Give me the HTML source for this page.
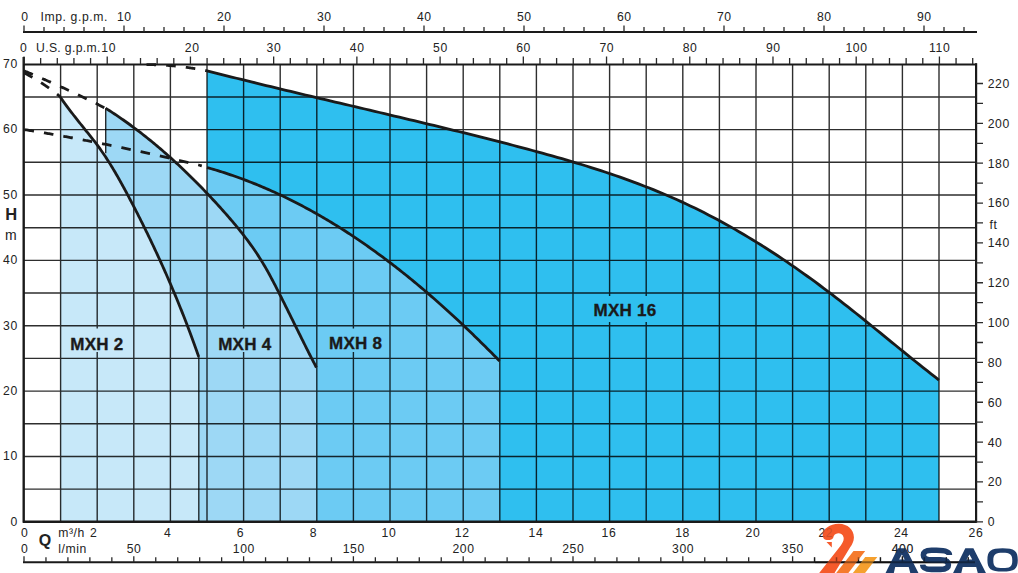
<!DOCTYPE html><html><head><meta charset="utf-8"><style>html,body{margin:0;padding:0;background:#fff;width:1018px;height:573px;overflow:hidden}svg{display:block}text{font-family:"Liberation Sans",sans-serif;fill:#222}</style></head><body>
<svg width="1018" height="573" viewBox="0 0 1018 573">
<rect width="1018" height="573" fill="#fff"/>
<path d="M207.00,70.79 L211.93,72.05 L216.85,73.30 L221.78,74.55 L226.70,75.79 L231.63,77.02 L236.56,78.25 L241.49,79.47 L246.41,80.69 L251.34,81.91 L256.27,83.12 L261.20,84.32 L266.13,85.52 L271.06,86.72 L275.99,87.91 L280.92,89.10 L285.85,90.29 L290.78,91.47 L295.71,92.65 L300.65,93.83 L305.58,95.00 L310.51,96.18 L315.44,97.35 L320.38,98.52 L325.31,99.69 L330.24,100.85 L335.18,102.02 L340.11,103.18 L345.04,104.35 L349.98,105.51 L354.91,106.68 L359.85,107.84 L364.78,109.01 L369.72,110.17 L374.65,111.34 L379.59,112.51 L384.52,113.68 L389.46,114.85 L394.39,116.02 L399.33,117.19 L404.26,118.37 L409.20,119.55 L414.13,120.73 L419.07,121.91 L424.00,123.10 L428.94,124.29 L433.87,125.48 L438.81,126.68 L443.75,127.88 L448.68,129.09 L453.62,130.30 L458.55,131.51 L463.48,132.73 L468.42,133.96 L473.35,135.19 L478.29,136.43 L483.22,137.67 L488.16,138.92 L493.09,140.17 L498.02,141.43 L502.96,142.70 L507.89,143.97 L512.82,145.26 L517.75,146.55 L522.68,147.85 L527.61,149.16 L532.53,150.49 L537.45,151.82 L542.37,153.17 L547.28,154.53 L552.19,155.91 L557.09,157.31 L561.99,158.71 L566.88,160.14 L571.76,161.59 L576.64,163.05 L581.50,164.53 L586.37,166.03 L591.22,167.56 L596.06,169.10 L600.90,170.67 L605.72,172.27 L610.54,173.88 L615.34,175.52 L620.13,177.19 L624.91,178.89 L629.68,180.61 L634.43,182.36 L639.18,184.14 L643.91,185.95 L648.62,187.80 L653.32,189.67 L658.00,191.58 L662.67,193.52 L667.33,195.49 L671.97,197.50 L676.59,199.54 L681.19,201.62 L685.77,203.74 L690.34,205.90 L694.89,208.09 L699.42,210.32 L703.94,212.59 L708.43,214.89 L712.91,217.22 L717.37,219.59 L721.82,221.99 L726.25,224.43 L730.66,226.90 L735.06,229.40 L739.44,231.93 L743.80,234.49 L748.14,237.09 L752.47,239.71 L756.79,242.36 L761.09,245.04 L765.37,247.75 L769.64,250.48 L773.89,253.25 L778.13,256.04 L782.35,258.85 L786.56,261.69 L790.75,264.56 L794.93,267.44 L799.09,270.36 L803.24,273.29 L807.37,276.25 L811.49,279.23 L815.60,282.23 L819.69,285.25 L823.77,288.30 L827.83,291.36 L831.88,294.44 L835.92,297.54 L839.95,300.66 L843.96,303.79 L847.97,306.93 L851.96,310.09 L855.95,313.26 L859.93,316.44 L863.90,319.63 L867.86,322.82 L871.82,326.03 L875.77,329.23 L879.72,332.44 L883.66,335.65 L887.61,338.86 L891.55,342.07 L895.48,345.28 L899.42,348.49 L903.36,351.68 L907.30,354.88 L911.25,358.06 L915.19,361.24 L919.14,364.40 L923.10,367.56 L927.06,370.70 L931.02,373.82 L935.00,376.94 L938.98,380.03 L939.00,521.80 L207.00,521.80 Z" fill="#2fbfef"/>
<path d="M207.00,167.50 L209.17,168.11 L211.33,168.73 L213.49,169.36 L215.64,170.01 L217.79,170.66 L219.94,171.33 L222.08,172.00 L224.21,172.69 L226.35,173.38 L228.47,174.09 L230.60,174.80 L232.71,175.53 L234.83,176.27 L236.94,177.01 L239.04,177.77 L241.14,178.53 L243.23,179.31 L245.33,180.10 L247.41,180.89 L249.49,181.70 L251.57,182.51 L253.64,183.33 L255.71,184.17 L257.78,185.01 L259.84,185.86 L261.89,186.72 L263.94,187.60 L265.99,188.48 L268.03,189.36 L270.07,190.26 L272.10,191.17 L274.13,192.09 L276.15,193.01 L278.17,193.95 L280.19,194.89 L282.20,195.84 L284.21,196.80 L286.21,197.77 L288.21,198.75 L290.20,199.73 L292.19,200.73 L294.18,201.73 L296.16,202.74 L298.14,203.76 L300.11,204.79 L302.08,205.82 L304.05,206.87 L306.01,207.92 L307.96,208.98 L309.91,210.05 L311.86,211.12 L313.81,212.20 L315.74,213.30 L317.68,214.39 L319.61,215.50 L321.54,216.61 L323.46,217.74 L325.38,218.86 L327.29,220.00 L329.21,221.14 L331.11,222.29 L333.01,223.45 L334.91,224.62 L336.81,225.79 L338.70,226.97 L340.58,228.16 L342.46,229.35 L344.34,230.55 L346.22,231.76 L348.09,232.97 L349.95,234.19 L351.82,235.42 L353.67,236.65 L355.53,237.89 L357.38,239.14 L359.22,240.39 L361.07,241.65 L362.90,242.92 L364.74,244.19 L366.57,245.47 L368.40,246.75 L370.22,248.04 L372.04,249.34 L373.85,250.64 L375.66,251.95 L377.47,253.26 L379.27,254.58 L381.07,255.91 L382.87,257.24 L384.66,258.57 L386.45,259.92 L388.23,261.26 L390.01,262.62 L391.79,263.98 L393.56,265.34 L395.33,266.71 L397.10,268.08 L398.86,269.46 L400.62,270.85 L402.37,272.24 L404.12,273.63 L405.87,275.03 L407.61,276.43 L409.35,277.84 L411.09,279.26 L412.82,280.67 L414.55,282.10 L416.27,283.52 L417.99,284.96 L419.71,286.39 L421.42,287.83 L423.13,289.28 L424.84,290.73 L426.54,292.18 L428.24,293.64 L429.94,295.10 L431.63,296.57 L433.32,298.04 L435.00,299.51 L436.68,300.99 L438.36,302.47 L440.04,303.95 L441.71,305.44 L443.38,306.93 L445.04,308.43 L446.70,309.93 L448.36,311.43 L450.01,312.94 L451.66,314.45 L453.31,315.96 L454.95,317.48 L456.59,319.00 L458.23,320.52 L459.86,322.04 L461.49,323.57 L463.11,325.10 L464.74,326.64 L466.36,328.18 L467.97,329.72 L469.58,331.26 L471.19,332.80 L472.80,334.35 L474.40,335.90 L476.00,337.45 L477.60,339.01 L479.19,340.57 L480.78,342.13 L482.36,343.69 L483.95,345.25 L485.53,346.82 L487.10,348.39 L488.68,349.96 L490.25,351.53 L491.81,353.10 L493.38,354.68 L494.94,356.26 L496.49,357.84 L498.05,359.42 L499.60,361.00 L499.60,521.80 L207.00,521.80 Z" fill="#6ccbf3"/>
<path d="M105.60,108.20 L107.41,109.34 L109.21,110.49 L111.00,111.65 L112.79,112.82 L114.57,114.00 L116.34,115.19 L118.11,116.38 L119.87,117.59 L121.63,118.80 L123.38,120.02 L125.13,121.25 L126.87,122.49 L128.61,123.74 L130.34,125.00 L132.06,126.26 L133.78,127.53 L135.49,128.81 L137.19,130.10 L138.90,131.39 L140.59,132.70 L142.28,134.01 L143.96,135.32 L145.64,136.65 L147.32,137.98 L148.98,139.32 L150.65,140.67 L152.30,142.02 L153.95,143.38 L155.60,144.75 L157.24,146.13 L158.87,147.51 L160.50,148.90 L162.13,150.29 L163.74,151.69 L165.36,153.10 L166.97,154.51 L168.57,155.93 L170.17,157.36 L171.76,158.79 L173.34,160.23 L174.93,161.67 L176.50,163.12 L178.07,164.58 L179.64,166.04 L181.20,167.51 L182.75,168.98 L184.30,170.46 L185.85,171.94 L187.39,173.43 L188.92,174.92 L190.45,176.42 L191.98,177.92 L193.50,179.43 L195.01,180.94 L196.52,182.46 L198.02,183.98 L199.52,185.51 L201.02,187.04 L202.51,188.58 L203.99,190.11 L205.47,191.66 L206.95,193.21 L208.42,194.76 L209.88,196.31 L211.34,197.87 L212.80,199.44 L214.25,201.00 L215.69,202.57 L217.13,204.15 L218.57,205.72 L220.00,207.30 L221.43,208.89 L222.85,210.47 L224.26,212.06 L225.67,213.66 L227.08,215.26 L228.48,216.86 L229.87,218.47 L231.25,220.08 L232.63,221.70 L234.00,223.33 L235.36,224.96 L236.72,226.59 L238.06,228.23 L239.40,229.88 L240.73,231.54 L242.05,233.20 L243.36,234.87 L244.66,236.55 L245.94,238.24 L247.22,239.94 L248.49,241.64 L249.75,243.35 L250.99,245.07 L252.22,246.81 L253.44,248.55 L254.65,250.30 L255.84,252.06 L257.03,253.83 L258.19,255.62 L259.35,257.41 L260.49,259.22 L261.62,261.03 L262.73,262.86 L263.83,264.70 L264.91,266.55 L265.98,268.41 L267.05,270.28 L268.10,272.15 L269.14,274.04 L270.17,275.93 L271.19,277.82 L272.20,279.72 L273.21,281.63 L274.21,283.54 L275.20,285.45 L276.18,287.36 L277.16,289.28 L278.14,291.20 L279.11,293.12 L280.08,295.04 L281.05,296.96 L282.01,298.87 L282.97,300.79 L283.93,302.71 L284.89,304.62 L285.84,306.54 L286.80,308.46 L287.75,310.37 L288.70,312.29 L289.64,314.20 L290.59,316.12 L291.54,318.03 L292.48,319.94 L293.43,321.85 L294.37,323.77 L295.31,325.68 L296.26,327.59 L297.20,329.50 L298.15,331.41 L299.09,333.31 L300.03,335.22 L300.98,337.13 L301.93,339.03 L302.88,340.94 L303.83,342.84 L304.78,344.75 L305.73,346.65 L306.69,348.55 L307.64,350.45 L308.60,352.35 L309.56,354.25 L310.53,356.15 L311.50,358.04 L312.47,359.94 L313.44,361.83 L314.42,363.73 L315.40,365.62 L316.38,367.51 L316.40,521.80 L105.60,521.80 Z" fill="#9dd8f5"/>
<path d="M60.41,97.29 L61.47,98.81 L62.54,100.33 L63.62,101.84 L64.71,103.34 L65.81,104.84 L66.91,106.34 L68.02,107.83 L69.14,109.32 L70.27,110.80 L71.40,112.28 L72.53,113.75 L73.67,115.23 L74.82,116.70 L75.97,118.16 L77.12,119.63 L78.28,121.09 L79.44,122.55 L80.60,124.00 L81.77,125.46 L82.94,126.91 L84.11,128.37 L85.28,129.82 L86.45,131.27 L87.62,132.72 L88.79,134.17 L89.95,135.63 L91.11,137.09 L92.27,138.55 L93.41,140.01 L94.55,141.48 L95.69,142.96 L96.81,144.44 L97.91,145.93 L99.01,147.43 L100.10,148.93 L101.17,150.45 L102.23,151.97 L103.28,153.50 L104.32,155.03 L105.35,156.57 L106.37,158.12 L107.38,159.68 L108.37,161.24 L109.36,162.80 L110.35,164.38 L111.32,165.96 L112.28,167.54 L113.24,169.13 L114.19,170.72 L115.13,172.32 L116.07,173.92 L117.00,175.53 L117.92,177.14 L118.84,178.75 L119.75,180.37 L120.65,181.99 L121.55,183.62 L122.45,185.25 L123.34,186.88 L124.23,188.51 L125.11,190.15 L126.00,191.78 L126.87,193.42 L127.75,195.06 L128.62,196.71 L129.49,198.35 L130.36,200.00 L131.22,201.64 L132.09,203.29 L132.95,204.94 L133.81,206.60 L134.66,208.25 L135.52,209.90 L136.37,211.56 L137.22,213.22 L138.06,214.88 L138.90,216.54 L139.75,218.20 L140.58,219.86 L141.42,221.53 L142.25,223.19 L143.08,224.86 L143.91,226.53 L144.74,228.20 L145.56,229.87 L146.38,231.54 L147.20,233.22 L148.01,234.89 L148.83,236.57 L149.64,238.25 L150.44,239.93 L151.25,241.61 L152.05,243.29 L152.85,244.98 L153.65,246.66 L154.44,248.35 L155.23,250.04 L156.02,251.73 L156.81,253.42 L157.59,255.11 L158.37,256.80 L159.15,258.50 L159.93,260.19 L160.70,261.89 L161.47,263.59 L162.24,265.29 L163.00,266.99 L163.76,268.69 L164.52,270.39 L165.28,272.10 L166.03,273.80 L166.78,275.51 L167.53,277.22 L168.28,278.93 L169.02,280.64 L169.76,282.35 L170.50,284.06 L171.23,285.78 L171.96,287.49 L172.69,289.21 L173.42,290.93 L174.14,292.65 L174.86,294.37 L175.58,296.09 L176.29,297.81 L177.00,299.53 L177.71,301.26 L178.42,302.98 L179.12,304.71 L179.82,306.44 L180.51,308.17 L181.21,309.90 L181.90,311.63 L182.59,313.36 L183.27,315.09 L183.95,316.83 L184.63,318.56 L185.31,320.30 L185.98,322.04 L186.65,323.77 L187.32,325.51 L187.98,327.26 L188.64,329.00 L189.30,330.74 L189.96,332.48 L190.61,334.23 L191.26,335.97 L191.90,337.72 L192.54,339.47 L193.18,341.22 L193.82,342.97 L194.45,344.72 L195.08,346.47 L195.71,348.22 L196.34,349.98 L196.96,351.73 L197.57,353.49 L198.19,355.24 L198.80,357.00 L198.80,521.80 L60.40,521.80 Z" fill="#c7e8f9"/>
<path d="M60.60,64.28 V521.80 M97.20,64.28 V521.80 M133.80,64.28 V521.80 M170.40,64.28 V521.80 M207.00,64.28 V521.80 M243.60,64.28 V521.80 M280.20,64.28 V521.80 M316.80,64.28 V521.80 M353.40,64.28 V521.80 M390.00,64.28 V521.80 M426.60,64.28 V521.80 M463.20,64.28 V521.80 M499.80,64.28 V521.80 M536.40,64.28 V521.80 M573.00,64.28 V521.80 M609.60,64.28 V521.80 M646.20,64.28 V521.80 M682.80,64.28 V521.80 M719.40,64.28 V521.80 M756.00,64.28 V521.80 M792.60,64.28 V521.80 M829.20,64.28 V521.80 M865.80,64.28 V521.80 M902.40,64.28 V521.80 M939.00,64.28 V521.80 M24.00,489.12 H975.60 M24.00,456.44 H975.60 M24.00,423.76 H975.60 M24.00,391.08 H975.60 M24.00,358.40 H975.60 M24.00,325.72 H975.60 M24.00,293.04 H975.60 M24.00,260.36 H975.60 M24.00,227.68 H975.60 M24.00,195.00 H975.60 M24.00,162.32 H975.60 M24.00,129.64 H975.60 M24.00,96.96 H975.60" stroke="rgba(0,0,0,0.82)" stroke-width="1.4" fill="none"/>
<path d="M105.7,108.2 V153.3 M198.8,357 V521.80" stroke="rgba(0,0,0,0.82)" stroke-width="1.4" fill="none"/>
<rect x="66.0" y="328.5" width="62.0" height="23.5" fill="#c7e8f9"/>
<rect x="213.0" y="328.5" width="63.0" height="23.5" fill="#9dd8f5"/>
<rect x="324.0" y="328.5" width="63.0" height="23.5" fill="#6ccbf3"/>
<rect x="588.0" y="296.0" width="73.0" height="26.0" fill="#2fbfef"/>
<g fill="none" stroke="#1a1a1a" stroke-width="2.8" stroke-linejoin="round">
<path d="M207.00,70.79 L211.93,72.05 L216.85,73.30 L221.78,74.55 L226.70,75.79 L231.63,77.02 L236.56,78.25 L241.49,79.47 L246.41,80.69 L251.34,81.91 L256.27,83.12 L261.20,84.32 L266.13,85.52 L271.06,86.72 L275.99,87.91 L280.92,89.10 L285.85,90.29 L290.78,91.47 L295.71,92.65 L300.65,93.83 L305.58,95.00 L310.51,96.18 L315.44,97.35 L320.38,98.52 L325.31,99.69 L330.24,100.85 L335.18,102.02 L340.11,103.18 L345.04,104.35 L349.98,105.51 L354.91,106.68 L359.85,107.84 L364.78,109.01 L369.72,110.17 L374.65,111.34 L379.59,112.51 L384.52,113.68 L389.46,114.85 L394.39,116.02 L399.33,117.19 L404.26,118.37 L409.20,119.55 L414.13,120.73 L419.07,121.91 L424.00,123.10 L428.94,124.29 L433.87,125.48 L438.81,126.68 L443.75,127.88 L448.68,129.09 L453.62,130.30 L458.55,131.51 L463.48,132.73 L468.42,133.96 L473.35,135.19 L478.29,136.43 L483.22,137.67 L488.16,138.92 L493.09,140.17 L498.02,141.43 L502.96,142.70 L507.89,143.97 L512.82,145.26 L517.75,146.55 L522.68,147.85 L527.61,149.16 L532.53,150.49 L537.45,151.82 L542.37,153.17 L547.28,154.53 L552.19,155.91 L557.09,157.31 L561.99,158.71 L566.88,160.14 L571.76,161.59 L576.64,163.05 L581.50,164.53 L586.37,166.03 L591.22,167.56 L596.06,169.10 L600.90,170.67 L605.72,172.27 L610.54,173.88 L615.34,175.52 L620.13,177.19 L624.91,178.89 L629.68,180.61 L634.43,182.36 L639.18,184.14 L643.91,185.95 L648.62,187.80 L653.32,189.67 L658.00,191.58 L662.67,193.52 L667.33,195.49 L671.97,197.50 L676.59,199.54 L681.19,201.62 L685.77,203.74 L690.34,205.90 L694.89,208.09 L699.42,210.32 L703.94,212.59 L708.43,214.89 L712.91,217.22 L717.37,219.59 L721.82,221.99 L726.25,224.43 L730.66,226.90 L735.06,229.40 L739.44,231.93 L743.80,234.49 L748.14,237.09 L752.47,239.71 L756.79,242.36 L761.09,245.04 L765.37,247.75 L769.64,250.48 L773.89,253.25 L778.13,256.04 L782.35,258.85 L786.56,261.69 L790.75,264.56 L794.93,267.44 L799.09,270.36 L803.24,273.29 L807.37,276.25 L811.49,279.23 L815.60,282.23 L819.69,285.25 L823.77,288.30 L827.83,291.36 L831.88,294.44 L835.92,297.54 L839.95,300.66 L843.96,303.79 L847.97,306.93 L851.96,310.09 L855.95,313.26 L859.93,316.44 L863.90,319.63 L867.86,322.82 L871.82,326.03 L875.77,329.23 L879.72,332.44 L883.66,335.65 L887.61,338.86 L891.55,342.07 L895.48,345.28 L899.42,348.49 L903.36,351.68 L907.30,354.88 L911.25,358.06 L915.19,361.24 L919.14,364.40 L923.10,367.56 L927.06,370.70 L931.02,373.82 L935.00,376.94 L938.98,380.03"/>
<path d="M207.00,167.50 L209.17,168.11 L211.33,168.73 L213.49,169.36 L215.64,170.01 L217.79,170.66 L219.94,171.33 L222.08,172.00 L224.21,172.69 L226.35,173.38 L228.47,174.09 L230.60,174.80 L232.71,175.53 L234.83,176.27 L236.94,177.01 L239.04,177.77 L241.14,178.53 L243.23,179.31 L245.33,180.10 L247.41,180.89 L249.49,181.70 L251.57,182.51 L253.64,183.33 L255.71,184.17 L257.78,185.01 L259.84,185.86 L261.89,186.72 L263.94,187.60 L265.99,188.48 L268.03,189.36 L270.07,190.26 L272.10,191.17 L274.13,192.09 L276.15,193.01 L278.17,193.95 L280.19,194.89 L282.20,195.84 L284.21,196.80 L286.21,197.77 L288.21,198.75 L290.20,199.73 L292.19,200.73 L294.18,201.73 L296.16,202.74 L298.14,203.76 L300.11,204.79 L302.08,205.82 L304.05,206.87 L306.01,207.92 L307.96,208.98 L309.91,210.05 L311.86,211.12 L313.81,212.20 L315.74,213.30 L317.68,214.39 L319.61,215.50 L321.54,216.61 L323.46,217.74 L325.38,218.86 L327.29,220.00 L329.21,221.14 L331.11,222.29 L333.01,223.45 L334.91,224.62 L336.81,225.79 L338.70,226.97 L340.58,228.16 L342.46,229.35 L344.34,230.55 L346.22,231.76 L348.09,232.97 L349.95,234.19 L351.82,235.42 L353.67,236.65 L355.53,237.89 L357.38,239.14 L359.22,240.39 L361.07,241.65 L362.90,242.92 L364.74,244.19 L366.57,245.47 L368.40,246.75 L370.22,248.04 L372.04,249.34 L373.85,250.64 L375.66,251.95 L377.47,253.26 L379.27,254.58 L381.07,255.91 L382.87,257.24 L384.66,258.57 L386.45,259.92 L388.23,261.26 L390.01,262.62 L391.79,263.98 L393.56,265.34 L395.33,266.71 L397.10,268.08 L398.86,269.46 L400.62,270.85 L402.37,272.24 L404.12,273.63 L405.87,275.03 L407.61,276.43 L409.35,277.84 L411.09,279.26 L412.82,280.67 L414.55,282.10 L416.27,283.52 L417.99,284.96 L419.71,286.39 L421.42,287.83 L423.13,289.28 L424.84,290.73 L426.54,292.18 L428.24,293.64 L429.94,295.10 L431.63,296.57 L433.32,298.04 L435.00,299.51 L436.68,300.99 L438.36,302.47 L440.04,303.95 L441.71,305.44 L443.38,306.93 L445.04,308.43 L446.70,309.93 L448.36,311.43 L450.01,312.94 L451.66,314.45 L453.31,315.96 L454.95,317.48 L456.59,319.00 L458.23,320.52 L459.86,322.04 L461.49,323.57 L463.11,325.10 L464.74,326.64 L466.36,328.18 L467.97,329.72 L469.58,331.26 L471.19,332.80 L472.80,334.35 L474.40,335.90 L476.00,337.45 L477.60,339.01 L479.19,340.57 L480.78,342.13 L482.36,343.69 L483.95,345.25 L485.53,346.82 L487.10,348.39 L488.68,349.96 L490.25,351.53 L491.81,353.10 L493.38,354.68 L494.94,356.26 L496.49,357.84 L498.05,359.42 L499.60,361.00"/>
<path d="M105.60,108.20 L107.41,109.34 L109.21,110.49 L111.00,111.65 L112.79,112.82 L114.57,114.00 L116.34,115.19 L118.11,116.38 L119.87,117.59 L121.63,118.80 L123.38,120.02 L125.13,121.25 L126.87,122.49 L128.61,123.74 L130.34,125.00 L132.06,126.26 L133.78,127.53 L135.49,128.81 L137.19,130.10 L138.90,131.39 L140.59,132.70 L142.28,134.01 L143.96,135.32 L145.64,136.65 L147.32,137.98 L148.98,139.32 L150.65,140.67 L152.30,142.02 L153.95,143.38 L155.60,144.75 L157.24,146.13 L158.87,147.51 L160.50,148.90 L162.13,150.29 L163.74,151.69 L165.36,153.10 L166.97,154.51 L168.57,155.93 L170.17,157.36 L171.76,158.79 L173.34,160.23 L174.93,161.67 L176.50,163.12 L178.07,164.58 L179.64,166.04 L181.20,167.51 L182.75,168.98 L184.30,170.46 L185.85,171.94 L187.39,173.43 L188.92,174.92 L190.45,176.42 L191.98,177.92 L193.50,179.43 L195.01,180.94 L196.52,182.46 L198.02,183.98 L199.52,185.51 L201.02,187.04 L202.51,188.58 L203.99,190.11 L205.47,191.66 L206.95,193.21 L208.42,194.76 L209.88,196.31 L211.34,197.87 L212.80,199.44 L214.25,201.00 L215.69,202.57 L217.13,204.15 L218.57,205.72 L220.00,207.30 L221.43,208.89 L222.85,210.47 L224.26,212.06 L225.67,213.66 L227.08,215.26 L228.48,216.86 L229.87,218.47 L231.25,220.08 L232.63,221.70 L234.00,223.33 L235.36,224.96 L236.72,226.59 L238.06,228.23 L239.40,229.88 L240.73,231.54 L242.05,233.20 L243.36,234.87 L244.66,236.55 L245.94,238.24 L247.22,239.94 L248.49,241.64 L249.75,243.35 L250.99,245.07 L252.22,246.81 L253.44,248.55 L254.65,250.30 L255.84,252.06 L257.03,253.83 L258.19,255.62 L259.35,257.41 L260.49,259.22 L261.62,261.03 L262.73,262.86 L263.83,264.70 L264.91,266.55 L265.98,268.41 L267.05,270.28 L268.10,272.15 L269.14,274.04 L270.17,275.93 L271.19,277.82 L272.20,279.72 L273.21,281.63 L274.21,283.54 L275.20,285.45 L276.18,287.36 L277.16,289.28 L278.14,291.20 L279.11,293.12 L280.08,295.04 L281.05,296.96 L282.01,298.87 L282.97,300.79 L283.93,302.71 L284.89,304.62 L285.84,306.54 L286.80,308.46 L287.75,310.37 L288.70,312.29 L289.64,314.20 L290.59,316.12 L291.54,318.03 L292.48,319.94 L293.43,321.85 L294.37,323.77 L295.31,325.68 L296.26,327.59 L297.20,329.50 L298.15,331.41 L299.09,333.31 L300.03,335.22 L300.98,337.13 L301.93,339.03 L302.88,340.94 L303.83,342.84 L304.78,344.75 L305.73,346.65 L306.69,348.55 L307.64,350.45 L308.60,352.35 L309.56,354.25 L310.53,356.15 L311.50,358.04 L312.47,359.94 L313.44,361.83 L314.42,363.73 L315.40,365.62 L316.38,367.51"/>
<path d="M60.41,97.29 L61.47,98.81 L62.54,100.33 L63.62,101.84 L64.71,103.34 L65.81,104.84 L66.91,106.34 L68.02,107.83 L69.14,109.32 L70.27,110.80 L71.40,112.28 L72.53,113.75 L73.67,115.23 L74.82,116.70 L75.97,118.16 L77.12,119.63 L78.28,121.09 L79.44,122.55 L80.60,124.00 L81.77,125.46 L82.94,126.91 L84.11,128.37 L85.28,129.82 L86.45,131.27 L87.62,132.72 L88.79,134.17 L89.95,135.63 L91.11,137.09 L92.27,138.55 L93.41,140.01 L94.55,141.48 L95.69,142.96 L96.81,144.44 L97.91,145.93 L99.01,147.43 L100.10,148.93 L101.17,150.45 L102.23,151.97 L103.28,153.50 L104.32,155.03 L105.35,156.57 L106.37,158.12 L107.38,159.68 L108.37,161.24 L109.36,162.80 L110.35,164.38 L111.32,165.96 L112.28,167.54 L113.24,169.13 L114.19,170.72 L115.13,172.32 L116.07,173.92 L117.00,175.53 L117.92,177.14 L118.84,178.75 L119.75,180.37 L120.65,181.99 L121.55,183.62 L122.45,185.25 L123.34,186.88 L124.23,188.51 L125.11,190.15 L126.00,191.78 L126.87,193.42 L127.75,195.06 L128.62,196.71 L129.49,198.35 L130.36,200.00 L131.22,201.64 L132.09,203.29 L132.95,204.94 L133.81,206.60 L134.66,208.25 L135.52,209.90 L136.37,211.56 L137.22,213.22 L138.06,214.88 L138.90,216.54 L139.75,218.20 L140.58,219.86 L141.42,221.53 L142.25,223.19 L143.08,224.86 L143.91,226.53 L144.74,228.20 L145.56,229.87 L146.38,231.54 L147.20,233.22 L148.01,234.89 L148.83,236.57 L149.64,238.25 L150.44,239.93 L151.25,241.61 L152.05,243.29 L152.85,244.98 L153.65,246.66 L154.44,248.35 L155.23,250.04 L156.02,251.73 L156.81,253.42 L157.59,255.11 L158.37,256.80 L159.15,258.50 L159.93,260.19 L160.70,261.89 L161.47,263.59 L162.24,265.29 L163.00,266.99 L163.76,268.69 L164.52,270.39 L165.28,272.10 L166.03,273.80 L166.78,275.51 L167.53,277.22 L168.28,278.93 L169.02,280.64 L169.76,282.35 L170.50,284.06 L171.23,285.78 L171.96,287.49 L172.69,289.21 L173.42,290.93 L174.14,292.65 L174.86,294.37 L175.58,296.09 L176.29,297.81 L177.00,299.53 L177.71,301.26 L178.42,302.98 L179.12,304.71 L179.82,306.44 L180.51,308.17 L181.21,309.90 L181.90,311.63 L182.59,313.36 L183.27,315.09 L183.95,316.83 L184.63,318.56 L185.31,320.30 L185.98,322.04 L186.65,323.77 L187.32,325.51 L187.98,327.26 L188.64,329.00 L189.30,330.74 L189.96,332.48 L190.61,334.23 L191.26,335.97 L191.90,337.72 L192.54,339.47 L193.18,341.22 L193.82,342.97 L194.45,344.72 L195.08,346.47 L195.71,348.22 L196.34,349.98 L196.96,351.73 L197.57,353.49 L198.19,355.24 L198.80,357.00"/>
</g>
<g fill="none" stroke="#1a1a1a" stroke-width="2.8" stroke-dasharray="9.6 10.1">
<path d="M146.50,64.60 L146.88,64.60 L147.27,64.60 L147.65,64.61 L148.03,64.61 L148.42,64.61 L148.80,64.62 L149.18,64.62 L149.57,64.63 L149.95,64.63 L150.33,64.64 L150.71,64.65 L151.10,64.65 L151.48,64.66 L151.86,64.67 L152.25,64.68 L152.63,64.68 L153.01,64.69 L153.40,64.70 L153.78,64.71 L154.16,64.73 L154.55,64.74 L154.93,64.75 L155.31,64.76 L155.69,64.77 L156.08,64.79 L156.46,64.80 L156.84,64.81 L157.23,64.83 L157.61,64.84 L157.99,64.86 L158.37,64.88 L158.76,64.89 L159.14,64.91 L159.52,64.93 L159.90,64.95 L160.29,64.96 L160.67,64.98 L161.05,65.00 L161.44,65.02 L161.82,65.04 L162.20,65.06 L162.58,65.08 L162.97,65.11 L163.35,65.13 L163.73,65.15 L164.11,65.17 L164.50,65.20 L164.88,65.22 L165.26,65.25 L165.64,65.27 L166.02,65.30 L166.41,65.32 L166.79,65.35 L167.17,65.38 L167.55,65.41 L167.94,65.43 L168.32,65.46 L168.70,65.49 L169.08,65.52 L169.46,65.55 L169.84,65.58 L170.23,65.61 L170.61,65.64 L170.99,65.67 L171.37,65.71 L171.75,65.74 L172.14,65.77 L172.52,65.81 L172.90,65.84 L173.28,65.87 L173.66,65.91 L174.04,65.94 L174.42,65.98 L174.81,66.02 L175.19,66.05 L175.57,66.09 L175.95,66.13 L176.33,66.17 L176.71,66.21 L177.09,66.25 L177.47,66.29 L177.86,66.33 L178.24,66.37 L178.62,66.41 L179.00,66.45 L179.38,66.49 L179.76,66.53 L180.14,66.58 L180.52,66.62 L180.90,66.66 L181.28,66.71 L181.66,66.75 L182.04,66.80 L182.42,66.84 L182.80,66.89 L183.18,66.94 L183.56,66.98 L183.94,67.03 L184.32,67.08 L184.70,67.13 L185.08,67.18 L185.46,67.23 L185.84,67.28 L186.22,67.33 L186.60,67.38 L186.98,67.43 L187.36,67.48 L187.74,67.53 L188.12,67.59 L188.50,67.64 L188.88,67.69 L189.26,67.75 L189.64,67.80 L190.02,67.86 L190.40,67.91 L190.78,67.97 L191.15,68.02 L191.53,68.08 L191.91,68.14 L192.29,68.19 L192.67,68.25 L193.05,68.31 L193.43,68.37 L193.80,68.43 L194.18,68.49 L194.56,68.55 L194.94,68.61 L195.32,68.67 L195.70,68.73 L196.07,68.80 L196.45,68.86 L196.83,68.92 L197.21,68.99 L197.58,69.05 L197.96,69.12 L198.34,69.18 L198.72,69.25 L199.09,69.31 L199.47,69.38 L199.85,69.44 L200.23,69.51 L200.60,69.58 L200.98,69.65 L201.36,69.72 L201.73,69.79 L202.11,69.86 L202.49,69.93 L202.86,70.00 L203.24,70.07 L203.62,70.14 L203.99,70.21 L204.37,70.28 L204.75,70.35 L205.12,70.43 L205.50,70.50 L205.87,70.58 L206.25,70.65 L206.62,70.72 L207.00,70.80"/>
<path d="M24.00,70.80 L24.52,71.02 L25.04,71.23 L25.56,71.45 L26.08,71.67 L26.60,71.88 L27.12,72.10 L27.64,72.32 L28.15,72.54 L28.67,72.76 L29.19,72.97 L29.71,73.19 L30.23,73.41 L30.75,73.63 L31.27,73.85 L31.79,74.07 L32.30,74.29 L32.82,74.51 L33.34,74.73 L33.86,74.95 L34.38,75.17 L34.90,75.39 L35.41,75.61 L35.93,75.83 L36.45,76.05 L36.97,76.27 L37.48,76.49 L38.00,76.71 L38.52,76.94 L39.04,77.16 L39.55,77.38 L40.07,77.60 L40.59,77.83 L41.10,78.05 L41.62,78.27 L42.14,78.50 L42.65,78.72 L43.17,78.94 L43.69,79.17 L44.20,79.39 L44.72,79.62 L45.24,79.84 L45.75,80.07 L46.27,80.29 L46.78,80.52 L47.30,80.74 L47.82,80.97 L48.33,81.20 L48.85,81.42 L49.36,81.65 L49.88,81.88 L50.39,82.10 L50.91,82.33 L51.42,82.56 L51.94,82.79 L52.45,83.01 L52.97,83.24 L53.48,83.47 L54.00,83.70 L54.51,83.93 L55.02,84.16 L55.54,84.39 L56.05,84.62 L56.57,84.85 L57.08,85.08 L57.59,85.31 L58.11,85.54 L58.62,85.77 L59.13,86.00 L59.65,86.23 L60.16,86.46 L60.67,86.70 L61.19,86.93 L61.70,87.16 L62.21,87.39 L62.73,87.63 L63.24,87.86 L63.75,88.09 L64.26,88.33 L64.77,88.56 L65.29,88.79 L65.80,89.03 L66.31,89.26 L66.82,89.50 L67.33,89.73 L67.84,89.97 L68.36,90.21 L68.87,90.44 L69.38,90.68 L69.89,90.91 L70.40,91.15 L70.91,91.39 L71.42,91.63 L71.93,91.86 L72.44,92.10 L72.95,92.34 L73.46,92.58 L73.97,92.82 L74.48,93.06 L74.99,93.30 L75.50,93.54 L76.01,93.78 L76.52,94.02 L77.03,94.26 L77.54,94.50 L78.04,94.74 L78.55,94.98 L79.06,95.22 L79.57,95.46 L80.08,95.71 L80.59,95.95 L81.09,96.19 L81.60,96.43 L82.11,96.68 L82.62,96.92 L83.12,97.16 L83.63,97.41 L84.14,97.65 L84.65,97.90 L85.15,98.14 L85.66,98.39 L86.16,98.63 L86.67,98.88 L87.18,99.13 L87.68,99.37 L88.19,99.62 L88.70,99.87 L89.20,100.11 L89.71,100.36 L90.21,100.61 L90.72,100.86 L91.22,101.11 L91.73,101.36 L92.23,101.61 L92.74,101.86 L93.24,102.11 L93.75,102.36 L94.25,102.61 L94.75,102.86 L95.26,103.11 L95.76,103.36 L96.26,103.61 L96.77,103.86 L97.27,104.12 L97.77,104.37 L98.28,104.62 L98.78,104.88 L99.28,105.13 L99.78,105.38 L100.29,105.64 L100.79,105.89 L101.29,106.15 L101.79,106.40 L102.29,106.66 L102.80,106.92 L103.30,107.17 L103.80,107.43 L104.30,107.69 L104.80,107.94 L105.30,108.20"/>
<path d="M24.00,72.80 L24.25,72.93 L24.49,73.06 L24.74,73.18 L24.98,73.31 L25.23,73.44 L25.48,73.57 L25.72,73.70 L25.97,73.83 L26.21,73.96 L26.46,74.09 L26.70,74.22 L26.94,74.36 L27.19,74.49 L27.43,74.62 L27.68,74.75 L27.92,74.88 L28.16,75.02 L28.40,75.15 L28.65,75.28 L28.89,75.42 L29.13,75.55 L29.37,75.68 L29.62,75.82 L29.86,75.95 L30.10,76.09 L30.34,76.23 L30.58,76.36 L30.82,76.50 L31.06,76.63 L31.30,76.77 L31.54,76.91 L31.78,77.05 L32.02,77.18 L32.26,77.32 L32.50,77.46 L32.74,77.60 L32.98,77.74 L33.22,77.88 L33.46,78.02 L33.70,78.16 L33.94,78.30 L34.17,78.44 L34.41,78.58 L34.65,78.72 L34.89,78.86 L35.12,79.00 L35.36,79.14 L35.60,79.29 L35.83,79.43 L36.07,79.57 L36.31,79.71 L36.54,79.86 L36.78,80.00 L37.01,80.15 L37.25,80.29 L37.48,80.44 L37.72,80.58 L37.95,80.73 L38.19,80.87 L38.42,81.02 L38.66,81.16 L38.89,81.31 L39.13,81.46 L39.36,81.61 L39.59,81.75 L39.82,81.90 L40.06,82.05 L40.29,82.20 L40.52,82.35 L40.76,82.50 L40.99,82.65 L41.22,82.79 L41.45,82.94 L41.68,83.10 L41.91,83.25 L42.14,83.40 L42.38,83.55 L42.61,83.70 L42.84,83.85 L43.07,84.00 L43.30,84.16 L43.53,84.31 L43.76,84.46 L43.99,84.62 L44.21,84.77 L44.44,84.92 L44.67,85.08 L44.90,85.23 L45.13,85.39 L45.36,85.54 L45.58,85.70 L45.81,85.85 L46.04,86.01 L46.27,86.17 L46.49,86.32 L46.72,86.48 L46.95,86.64 L47.17,86.80 L47.40,86.95 L47.63,87.11 L47.85,87.27 L48.08,87.43 L48.30,87.59 L48.53,87.75 L48.75,87.91 L48.98,88.07 L49.20,88.23 L49.43,88.39 L49.65,88.55 L49.88,88.71 L50.10,88.87 L50.32,89.04 L50.55,89.20 L50.77,89.36 L50.99,89.52 L51.22,89.69 L51.44,89.85 L51.66,90.02 L51.88,90.18 L52.10,90.34 L52.33,90.51 L52.55,90.67 L52.77,90.84 L52.99,91.01 L53.21,91.17 L53.43,91.34 L53.65,91.50 L53.87,91.67 L54.09,91.84 L54.31,92.01 L54.53,92.17 L54.75,92.34 L54.97,92.51 L55.19,92.68 L55.41,92.85 L55.63,93.02 L55.85,93.19 L56.06,93.36 L56.28,93.53 L56.50,93.70 L56.72,93.87 L56.94,94.04 L57.15,94.21 L57.37,94.38 L57.59,94.56 L57.80,94.73 L58.02,94.90 L58.24,95.08 L58.45,95.25 L58.67,95.42 L58.88,95.60 L59.10,95.77 L59.31,95.95 L59.53,96.12 L59.74,96.30 L59.96,96.47 L60.17,96.65 L60.39,96.82 L60.60,97.00"/>
<path d="M24.50,129.60 L25.62,129.78 L26.75,129.96 L27.87,130.15 L28.99,130.33 L30.12,130.51 L31.24,130.70 L32.36,130.88 L33.49,131.07 L34.61,131.25 L35.73,131.44 L36.86,131.63 L37.98,131.82 L39.10,132.01 L40.22,132.20 L41.35,132.39 L42.47,132.58 L43.59,132.77 L44.71,132.96 L45.84,133.15 L46.96,133.35 L48.08,133.54 L49.20,133.73 L50.32,133.93 L51.44,134.13 L52.56,134.32 L53.69,134.52 L54.81,134.72 L55.93,134.92 L57.05,135.11 L58.17,135.31 L59.29,135.51 L60.41,135.71 L61.53,135.92 L62.65,136.12 L63.77,136.32 L64.89,136.52 L66.01,136.73 L67.13,136.93 L68.25,137.14 L69.37,137.34 L70.49,137.55 L71.61,137.75 L72.73,137.96 L73.85,138.17 L74.97,138.38 L76.09,138.59 L77.21,138.80 L78.32,139.01 L79.44,139.22 L80.56,139.43 L81.68,139.64 L82.80,139.86 L83.92,140.07 L85.03,140.28 L86.15,140.50 L87.27,140.71 L88.39,140.93 L89.51,141.14 L90.62,141.36 L91.74,141.58 L92.86,141.80 L93.98,142.01 L95.09,142.23 L96.21,142.45 L97.33,142.67 L98.44,142.89 L99.56,143.12 L100.68,143.34 L101.79,143.56 L102.91,143.78 L104.03,144.01 L105.14,144.23 L106.26,144.46 L107.37,144.68 L108.49,144.91 L109.60,145.13 L110.72,145.36 L111.84,145.59 L112.95,145.82 L114.07,146.05 L115.18,146.28 L116.30,146.51 L117.41,146.74 L118.53,146.97 L119.64,147.20 L120.75,147.43 L121.87,147.66 L122.98,147.90 L124.10,148.13 L125.21,148.36 L126.33,148.60 L127.44,148.83 L128.55,149.07 L129.67,149.31 L130.78,149.54 L131.89,149.78 L133.01,150.02 L134.12,150.26 L135.23,150.50 L136.35,150.74 L137.46,150.98 L138.57,151.22 L139.68,151.46 L140.80,151.70 L141.91,151.94 L143.02,152.19 L144.13,152.43 L145.24,152.68 L146.36,152.92 L147.47,153.16 L148.58,153.41 L149.69,153.66 L150.80,153.90 L151.91,154.15 L153.03,154.40 L154.14,154.65 L155.25,154.90 L156.36,155.14 L157.47,155.39 L158.58,155.64 L159.69,155.90 L160.80,156.15 L161.91,156.40 L163.02,156.65 L164.13,156.90 L165.24,157.16 L166.35,157.41 L167.46,157.67 L168.57,157.92 L169.68,158.18 L170.79,158.43 L171.90,158.69 L173.01,158.95 L174.12,159.20 L175.22,159.46 L176.33,159.72 L177.44,159.98 L178.55,160.24 L179.66,160.50 L180.77,160.76 L181.87,161.02 L182.98,161.28 L184.09,161.54 L185.20,161.81 L186.31,162.07 L187.41,162.33 L188.52,162.60 L189.63,162.86 L190.74,163.12 L191.84,163.39 L192.95,163.66 L194.06,163.92 L195.16,164.19 L196.27,164.46 L197.38,164.72 L198.48,164.99 L199.59,165.26 L200.69,165.53 L201.80,165.80"/>
</g>
<g stroke="#1a1a1a" fill="none">
<path d="M23.00,521.80 H976.60" stroke-width="2.4"/>
<path d="M23.70,57.00 V522.80" stroke-width="2.4"/>
<path d="M976.10,63.28 V522.80" stroke-width="2.2"/>
<path d="M23.00,64.40 H977.00" stroke-width="2.0"/>
<path d="M23.00,32.00 H977.00" stroke-width="2.0"/>
<path d="M23.00,562.30 H975.00" stroke-width="2.0"/>
</g>
<path d="M24.00,32 V25.50 M44.00,32 V27.00 M64.00,32 V27.00 M84.00,32 V27.00 M104.00,32 V27.00 M124.00,32 V25.50 M144.00,32 V27.00 M164.00,32 V27.00 M184.00,32 V27.00 M204.00,32 V27.00 M224.00,32 V25.50 M244.00,32 V27.00 M264.00,32 V27.00 M284.00,32 V27.00 M304.00,32 V27.00 M324.00,32 V25.50 M344.00,32 V27.00 M364.00,32 V27.00 M384.00,32 V27.00 M404.00,32 V27.00 M424.00,32 V25.50 M444.00,32 V27.00 M464.00,32 V27.00 M484.00,32 V27.00 M504.00,32 V27.00 M524.00,32 V25.50 M544.00,32 V27.00 M564.00,32 V27.00 M584.00,32 V27.00 M604.00,32 V27.00 M624.00,32 V25.50 M644.00,32 V27.00 M664.00,32 V27.00 M684.00,32 V27.00 M704.00,32 V27.00 M724.00,32 V25.50 M744.00,32 V27.00 M764.00,32 V27.00 M784.00,32 V27.00 M804.00,32 V27.00 M824.00,32 V25.50 M844.00,32 V27.00 M864.00,32 V27.00 M884.00,32 V27.00 M904.00,32 V27.00 M924.00,32 V25.50 M944.00,32 V27.00 M964.00,32 V27.00 M24.00,64 V56.60 M40.64,64 V58.10 M57.29,64 V58.10 M73.93,64 V58.10 M90.58,64 V58.10 M107.22,64 V56.60 M123.86,64 V58.10 M140.51,64 V58.10 M157.15,64 V58.10 M173.80,64 V58.10 M190.44,64 V56.60 M207.08,64 V58.10 M223.73,64 V58.10 M240.37,64 V58.10 M257.02,64 V58.10 M273.66,64 V56.60 M290.30,64 V58.10 M306.95,64 V58.10 M323.59,64 V58.10 M340.24,64 V58.10 M356.88,64 V56.60 M373.52,64 V58.10 M390.17,64 V58.10 M406.81,64 V58.10 M423.46,64 V58.10 M440.10,64 V56.60 M456.74,64 V58.10 M473.39,64 V58.10 M490.03,64 V58.10 M506.68,64 V58.10 M523.32,64 V56.60 M539.96,64 V58.10 M556.61,64 V58.10 M573.25,64 V58.10 M589.90,64 V58.10 M606.54,64 V56.60 M623.18,64 V58.10 M639.83,64 V58.10 M656.47,64 V58.10 M673.12,64 V58.10 M689.76,64 V56.60 M706.40,64 V58.10 M723.05,64 V58.10 M739.69,64 V58.10 M756.34,64 V58.10 M772.98,64 V56.60 M789.62,64 V58.10 M806.27,64 V58.10 M822.91,64 V58.10 M839.56,64 V58.10 M856.20,64 V56.60 M872.84,64 V58.10 M889.49,64 V58.10 M906.13,64 V58.10 M922.78,64 V58.10 M939.42,64 V56.60 M956.06,64 V58.10 M972.71,64 V58.10 M24.00,562.3 V556.30 M45.96,562.3 V557.30 M67.92,562.3 V557.30 M89.88,562.3 V557.30 M111.84,562.3 V557.30 M133.80,562.3 V556.30 M155.76,562.3 V557.30 M177.72,562.3 V557.30 M199.68,562.3 V557.30 M221.64,562.3 V557.30 M243.60,562.3 V556.30 M265.56,562.3 V557.30 M287.52,562.3 V557.30 M309.48,562.3 V557.30 M331.44,562.3 V557.30 M353.40,562.3 V556.30 M375.36,562.3 V557.30 M397.32,562.3 V557.30 M419.28,562.3 V557.30 M441.24,562.3 V557.30 M463.20,562.3 V556.30 M485.16,562.3 V557.30 M507.12,562.3 V557.30 M529.08,562.3 V557.30 M551.04,562.3 V557.30 M573.00,562.3 V556.30 M594.96,562.3 V557.30 M616.92,562.3 V557.30 M638.88,562.3 V557.30 M660.84,562.3 V557.30 M682.80,562.3 V556.30 M704.76,562.3 V557.30 M726.72,562.3 V557.30 M748.68,562.3 V557.30 M770.64,562.3 V557.30 M792.60,562.3 V556.30 M814.56,562.3 V557.30 M836.52,562.3 V557.30 M858.48,562.3 V557.30 M880.44,562.3 V557.30 M902.40,562.3 V556.30 M924.36,562.3 V557.30 M946.32,562.3 V557.30 M968.28,562.3 V557.30 M976,521.80 H983 M976,501.88 H983 M976,481.96 H983 M976,462.03 H983 M976,442.11 H983 M976,422.19 H983 M976,402.27 H983 M976,382.35 H983 M976,362.43 H983 M976,342.50 H983 M976,322.58 H983 M976,302.66 H983 M976,282.74 H983 M976,262.82 H983 M976,242.90 H983 M976,222.97 H983 M976,203.05 H983 M976,183.13 H983 M976,163.21 H983 M976,143.29 H983 M976,123.37 H983 M976,103.44 H983 M976,83.52 H983" stroke="#2a2a2a" stroke-width="1.3" fill="none"/>
<text x="24.90" y="21.20" text-anchor="middle" font-size="12.20" font-weight="normal" letter-spacing="0.60">0</text>
<text x="40.50" y="21.20" text-anchor="start" font-size="12.20" font-weight="normal" letter-spacing="0.60">Imp. g.p.m.</text>
<text x="124.30" y="21.20" text-anchor="middle" font-size="12.20" font-weight="normal" letter-spacing="0.60">10</text>
<text x="224.30" y="21.20" text-anchor="middle" font-size="12.20" font-weight="normal" letter-spacing="0.60">20</text>
<text x="324.30" y="21.20" text-anchor="middle" font-size="12.20" font-weight="normal" letter-spacing="0.60">30</text>
<text x="424.30" y="21.20" text-anchor="middle" font-size="12.20" font-weight="normal" letter-spacing="0.60">40</text>
<text x="524.30" y="21.20" text-anchor="middle" font-size="12.20" font-weight="normal" letter-spacing="0.60">50</text>
<text x="624.30" y="21.20" text-anchor="middle" font-size="12.20" font-weight="normal" letter-spacing="0.60">60</text>
<text x="724.30" y="21.20" text-anchor="middle" font-size="12.20" font-weight="normal" letter-spacing="0.60">70</text>
<text x="824.30" y="21.20" text-anchor="middle" font-size="12.20" font-weight="normal" letter-spacing="0.60">80</text>
<text x="924.30" y="21.20" text-anchor="middle" font-size="12.20" font-weight="normal" letter-spacing="0.60">90</text>
<text x="23.80" y="52.30" text-anchor="middle" font-size="12.20" font-weight="normal" letter-spacing="0.60">0</text>
<text x="36.00" y="52.30" text-anchor="start" font-size="12.20" font-weight="normal" letter-spacing="0.35">U.S. g.p.m.</text>
<text x="108.72" y="51.60" text-anchor="middle" font-size="12.20" font-weight="normal" letter-spacing="0.60">10</text>
<text x="192.14" y="51.60" text-anchor="middle" font-size="12.20" font-weight="normal" letter-spacing="0.60">20</text>
<text x="273.96" y="51.60" text-anchor="middle" font-size="12.20" font-weight="normal" letter-spacing="0.60">30</text>
<text x="357.18" y="51.60" text-anchor="middle" font-size="12.20" font-weight="normal" letter-spacing="0.60">40</text>
<text x="440.40" y="51.60" text-anchor="middle" font-size="12.20" font-weight="normal" letter-spacing="0.60">50</text>
<text x="523.62" y="51.60" text-anchor="middle" font-size="12.20" font-weight="normal" letter-spacing="0.60">60</text>
<text x="606.84" y="51.60" text-anchor="middle" font-size="12.20" font-weight="normal" letter-spacing="0.60">70</text>
<text x="690.06" y="51.60" text-anchor="middle" font-size="12.20" font-weight="normal" letter-spacing="0.60">80</text>
<text x="773.28" y="51.60" text-anchor="middle" font-size="12.20" font-weight="normal" letter-spacing="0.60">90</text>
<text x="856.50" y="51.60" text-anchor="middle" font-size="12.20" font-weight="normal" letter-spacing="0.60">100</text>
<text x="939.72" y="51.60" text-anchor="middle" font-size="12.20" font-weight="normal" letter-spacing="0.60">110</text>
<text x="18.00" y="525.60" text-anchor="end" font-size="12.20" font-weight="normal" letter-spacing="0.70">0</text>
<text x="18.00" y="460.24" text-anchor="end" font-size="12.20" font-weight="normal" letter-spacing="0.70">10</text>
<text x="18.00" y="394.88" text-anchor="end" font-size="12.20" font-weight="normal" letter-spacing="0.70">20</text>
<text x="18.00" y="329.52" text-anchor="end" font-size="12.20" font-weight="normal" letter-spacing="0.70">30</text>
<text x="18.00" y="264.16" text-anchor="end" font-size="12.20" font-weight="normal" letter-spacing="0.70">40</text>
<text x="18.00" y="198.80" text-anchor="end" font-size="12.20" font-weight="normal" letter-spacing="0.70">50</text>
<text x="18.00" y="133.44" text-anchor="end" font-size="12.20" font-weight="normal" letter-spacing="0.70">60</text>
<text x="18.00" y="68.08" text-anchor="end" font-size="12.20" font-weight="normal" letter-spacing="0.70">70</text>
<text x="11.30" y="219.90" text-anchor="middle" font-size="16.50" font-weight="bold" letter-spacing="0.00">H</text>
<text x="10.90" y="239.50" text-anchor="middle" font-size="14.00" font-weight="normal" letter-spacing="0.00">m</text>
<text x="987.70" y="526.20" text-anchor="start" font-size="12.20" font-weight="normal" letter-spacing="0.60">0</text>
<text x="987.70" y="486.36" text-anchor="start" font-size="12.20" font-weight="normal" letter-spacing="0.60">20</text>
<text x="987.70" y="446.51" text-anchor="start" font-size="12.20" font-weight="normal" letter-spacing="0.60">40</text>
<text x="987.70" y="406.67" text-anchor="start" font-size="12.20" font-weight="normal" letter-spacing="0.60">60</text>
<text x="987.70" y="366.83" text-anchor="start" font-size="12.20" font-weight="normal" letter-spacing="0.60">80</text>
<text x="987.70" y="326.98" text-anchor="start" font-size="12.20" font-weight="normal" letter-spacing="0.60">100</text>
<text x="987.70" y="287.14" text-anchor="start" font-size="12.20" font-weight="normal" letter-spacing="0.60">120</text>
<text x="987.70" y="247.30" text-anchor="start" font-size="12.20" font-weight="normal" letter-spacing="0.60">140</text>
<text x="987.70" y="207.45" text-anchor="start" font-size="12.20" font-weight="normal" letter-spacing="0.60">160</text>
<text x="987.70" y="167.61" text-anchor="start" font-size="12.20" font-weight="normal" letter-spacing="0.60">180</text>
<text x="987.70" y="127.77" text-anchor="start" font-size="12.20" font-weight="normal" letter-spacing="0.60">200</text>
<text x="987.70" y="87.92" text-anchor="start" font-size="12.20" font-weight="normal" letter-spacing="0.60">220</text>
<text x="989.40" y="228.80" text-anchor="start" font-size="12.20" font-weight="normal" letter-spacing="0.60">ft</text>
<text x="24.70" y="537.10" text-anchor="middle" font-size="12.20" font-weight="normal" letter-spacing="0.60">0</text>
<text x="93.80" y="537.10" text-anchor="middle" font-size="12.20" font-weight="normal" letter-spacing="0.60">2</text>
<text x="167.60" y="537.10" text-anchor="middle" font-size="12.20" font-weight="normal" letter-spacing="0.60">4</text>
<text x="240.40" y="537.10" text-anchor="middle" font-size="12.20" font-weight="normal" letter-spacing="0.60">6</text>
<text x="313.50" y="537.10" text-anchor="middle" font-size="12.20" font-weight="normal" letter-spacing="0.60">8</text>
<text x="388.90" y="537.10" text-anchor="middle" font-size="12.20" font-weight="normal" letter-spacing="0.60">10</text>
<text x="462.20" y="537.10" text-anchor="middle" font-size="12.20" font-weight="normal" letter-spacing="0.60">12</text>
<text x="535.90" y="537.10" text-anchor="middle" font-size="12.20" font-weight="normal" letter-spacing="0.60">14</text>
<text x="609.00" y="537.10" text-anchor="middle" font-size="12.20" font-weight="normal" letter-spacing="0.60">16</text>
<text x="682.60" y="537.10" text-anchor="middle" font-size="12.20" font-weight="normal" letter-spacing="0.60">18</text>
<text x="753.00" y="537.10" text-anchor="middle" font-size="12.20" font-weight="normal" letter-spacing="0.60">20</text>
<text x="825.80" y="537.10" text-anchor="middle" font-size="12.20" font-weight="normal" letter-spacing="0.60">22</text>
<text x="901.30" y="537.10" text-anchor="middle" font-size="12.20" font-weight="normal" letter-spacing="0.60">24</text>
<text x="975.90" y="537.10" text-anchor="middle" font-size="12.20" font-weight="normal" letter-spacing="0.60">26</text>
<text x="58.20" y="537.10" text-anchor="start" font-size="12.20" font-weight="normal" letter-spacing="0.60">m³/h</text>
<text x="45.10" y="545.60" text-anchor="middle" font-size="16.00" font-weight="bold" letter-spacing="0.00">Q</text>
<text x="24.70" y="552.50" text-anchor="middle" font-size="12.20" font-weight="normal" letter-spacing="0.60">0</text>
<text x="58.20" y="552.50" text-anchor="start" font-size="12.20" font-weight="normal" letter-spacing="0.60">l/min</text>
<text x="134.10" y="552.50" text-anchor="middle" font-size="12.20" font-weight="normal" letter-spacing="0.60">50</text>
<text x="243.90" y="552.50" text-anchor="middle" font-size="12.20" font-weight="normal" letter-spacing="0.60">100</text>
<text x="353.70" y="552.50" text-anchor="middle" font-size="12.20" font-weight="normal" letter-spacing="0.60">150</text>
<text x="463.50" y="552.50" text-anchor="middle" font-size="12.20" font-weight="normal" letter-spacing="0.60">200</text>
<text x="573.30" y="552.50" text-anchor="middle" font-size="12.20" font-weight="normal" letter-spacing="0.60">250</text>
<text x="683.10" y="552.50" text-anchor="middle" font-size="12.20" font-weight="normal" letter-spacing="0.60">300</text>
<text x="792.90" y="552.50" text-anchor="middle" font-size="12.20" font-weight="normal" letter-spacing="0.60">350</text>
<text x="902.70" y="552.50" text-anchor="middle" font-size="12.20" font-weight="normal" letter-spacing="0.60">400</text>
<text x="70.30" y="349.60" text-anchor="start" font-size="17.00" font-weight="bold" letter-spacing="0.25" style="stroke:#1a1a1a;stroke-width:0.35px;fill:#1a1a1a">MXH 2</text>
<text x="218.20" y="349.60" text-anchor="start" font-size="17.00" font-weight="bold" letter-spacing="0.25" style="stroke:#1a1a1a;stroke-width:0.35px;fill:#1a1a1a">MXH 4</text>
<text x="329.00" y="349.40" text-anchor="start" font-size="17.00" font-weight="bold" letter-spacing="0.25" style="stroke:#1a1a1a;stroke-width:0.35px;fill:#1a1a1a">MXH 8</text>
<text x="593.50" y="316.10" text-anchor="start" font-size="17.00" font-weight="bold" letter-spacing="0.25" style="stroke:#1a1a1a;stroke-width:0.35px;fill:#1a1a1a">MXH 16</text>
<g>
<path d="M822.7,535.3 C822.3,529.5 830,523.6 839,523.8 C848,524 854.2,530 853.9,537.8 C853.7,541.5 852.3,544.5 850,547.5 L834.2,573.5 L818.8,573.5 L840.8,545.5 C843,542.5 844,540 843.6,537.5 C843,534.5 840.5,533.2 838.2,533.3 C835.5,533.4 833.6,535.2 833.2,537.8 C832.5,539.8 829.5,540.3 826.5,540 C824,539.6 822.8,537.8 822.7,535.3 Z" fill="#f55a2b"/>
<path d="M826.5,542 L831.8,542 L831.8,547.5 Z" fill="#f55a2b"/>
<path d="M853.5,550.9 L865.2,550.9 L848,573.5 L835.8,573.5 Z" fill="#f57b2d"/>
<path d="M865.2,557 L877.3,557 L864.7,573.5 L852.5,573.5 Z" fill="#f5a02e"/>
<path fill-rule="evenodd" d="M885.3,573.5 L897.8,548.2 L905.9,548.2 L918.7,573.5 L910.4,573.5 L908.7,567.0 L895.2,567.0 L893.7,573.5 Z M901.9,554.6 L904.7,559.6 L899.1,559.6 Z M952.8,573.5 L965.3,548.2 L973.4,548.2 L986.2,573.5 L977.9,573.5 L976.2,567.0 L962.7,567.0 L961.2,573.5 Z M969.4,554.6 L972.2,559.6 L966.6,559.6 Z" fill="#1e3d6b"/>
<path d="M949.4,555 C949.4,551.5 945,550.2 936.5,550.2 L931.5,550.2 C926,550.2 923.4,552.2 923.4,555.1 C923.4,558 926,559.9 931.5,559.9 L940.5,559.9 C946,559.9 948.4,562 948.4,564.8 C948.4,567.5 946,569.4 940.5,569.4 L931.5,569.4 C925.5,569.4 922.8,567.8 922.6,564.6" fill="none" stroke="#1e3d6b" stroke-width="5.6"/>
<path fill-rule="evenodd" d="M1002.6,548.2 C1014.5,548.2 1017.8,551 1017.8,559.9 C1017.8,568.8 1014.5,571.6 1002.6,571.6 C990.7,571.6 987.4,568.8 987.4,559.9 C987.4,551 990.7,548.2 1002.6,548.2 Z M1002.8,552.8 C996,552.8 993.3,554 993.3,560.4 C993.3,566.8 996,568 1002.8,568 C1009.6,568 1012.3,566.8 1012.3,560.4 C1012.3,554 1009.6,552.8 1002.8,552.8 Z" fill="#1e3d6b"/>
</g>
<g opacity="0.4">
<path d="M815,562.3 H975" stroke="#000" stroke-width="2"/>
<path d="M814.56,562.3 V557.30 M836.52,562.3 V557.30 M858.48,562.3 V557.30 M880.44,562.3 V557.30 M902.40,562.3 V556.30 M924.36,562.3 V557.30 M946.32,562.3 V557.30 M968.28,562.3 V557.30" stroke="#000" stroke-width="1.5"/>
<text x="902.70" y="552.50" text-anchor="middle" font-size="12.20" font-weight="normal" letter-spacing="0.60">400</text>
</g>
<g opacity="0.18">
<text x="825.80" y="537.10" text-anchor="middle" font-size="12.20" font-weight="normal" letter-spacing="0.60">22</text>
</g>
</svg></body></html>
